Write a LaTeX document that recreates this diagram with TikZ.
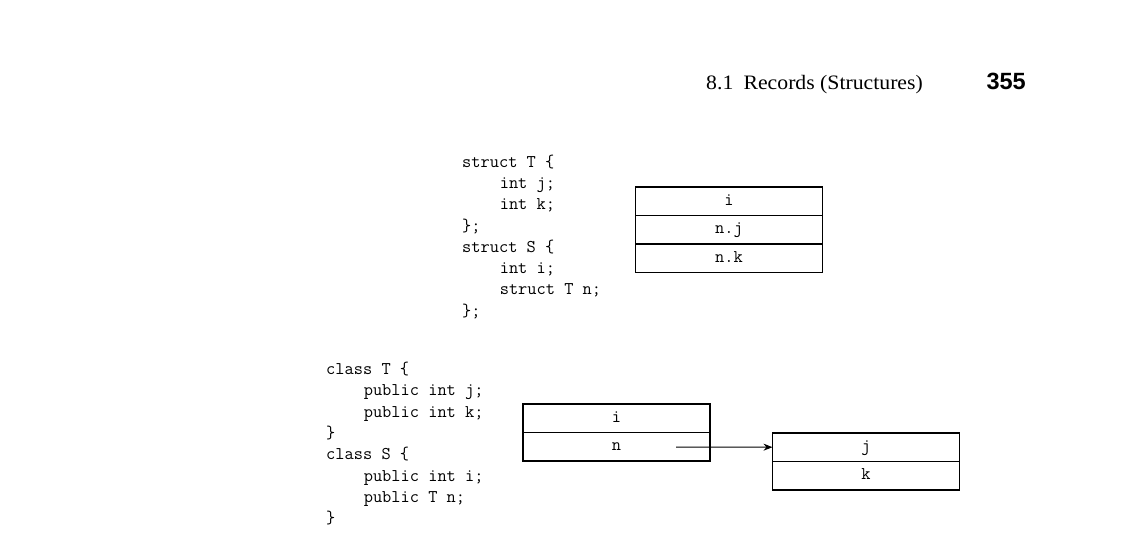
\documentclass[tikz,border=0pt]{standalone}
\usepackage{fontspec}
\setmainfont{Liberation Serif}[FakeStretch=1.06]
\newfontfamily\pagenumfont{Liberation Sans}
\usetikzlibrary{positioning,arrows.meta}
\newcommand{\codeind}{\hspace*{2.1em}}

\begin{document}
\begin{tikzpicture}[x=1pt, y=-1pt, node distance=0pt,
    cell/.style={draw, line width=1.3pt, minimum width=187pt, minimum height=28.5pt,
        inner sep=0pt, outer sep=0pt, text height=12pt, text depth=4pt,
        font=\fontsize{17.9}{21.3}\selectfont\ttfamily},
    code/.style={anchor=north west, inner sep=0pt, align=left,
        font=\fontsize{17.9}{21.3}\selectfont\ttfamily}]
    \fill[white] (0,0) rectangle (1128,540);
    \useasboundingbox (0,0) rectangle (1128,540);

    % running head
    \node[anchor=base west, inner sep=0pt, font=\fontsize{20.5}{24}\selectfont] (sec) at (706,90) {8.1\hspace{0.5em}Records (Structures)};
    \node[anchor=base east, inner sep=0pt, font=\fontsize{23.5}{26}\selectfont\pagenumfont\bfseries] (page) at (1026,90) {355};

    % C struct
    \node[code] (structcode) at (462,154.5) {struct T \{\\
        \codeind int j;\\
        \codeind int k;\\
        \};\\
        struct S \{\\
        \codeind int i;\\
        \codeind struct T n;\\
        \};};
    \node[cell] (si) at (729,201.2) {i};
    \node[cell, below=of si] (snj) {n.j};
    \node[cell, below=of snj] (snk) {n.k};

    % Java classes
    \node[code] (classcode) at (326,362) {class T \{\\
        \codeind public int j;\\
        \codeind public int k;\\
        \}\\
        class S \{\\
        \codeind public int i;\\
        \codeind public T n;\\
        \}};
    \node[cell] (ci) at (616.5,418.2) {i};
    \node[cell, below=of ci] (cn) {n};
    \node[cell] (tj) at (866,447.2) {j};
    \node[cell, below=of tj] (tk) {k};

    \coordinate (ptr) at (676,447);
    \draw[-{Stealth[length=9pt,width=7pt]}, line width=1pt] (ptr) -- (tj.west);
\end{tikzpicture}
\end{document}
